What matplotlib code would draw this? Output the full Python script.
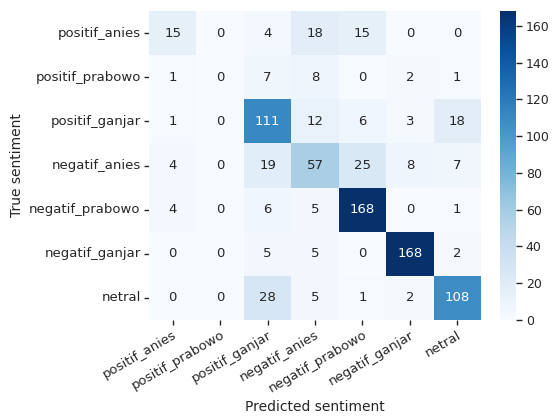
import numpy as np
import matplotlib
matplotlib.use("Agg")
import matplotlib.pyplot as plt
import seaborn as sns

labels = ["positif_anies", "positif_prabowo", "positif_ganjar",
          "negatif_anies", "negatif_prabowo", "negatif_ganjar", "netral"]

row_positif_anies = [15, 0, 4, 18, 15, 0, 0]
row_positif_prabowo = [1, 0, 7, 8, 0, 2, 1]
row_positif_ganjar = [1, 0, 111, 12, 6, 3, 18]
row_negatif_anies = [4, 0, 19, 57, 25, 8, 7]
row_negatif_prabowo = [4, 0, 6, 5, 168, 0, 1]
row_negatif_ganjar = [0, 0, 5, 5, 0, 168, 2]
row_netral = [0, 0, 28, 5, 1, 2, 108]

cm = np.array([row_positif_anies, row_positif_prabowo, row_positif_ganjar,
               row_negatif_anies, row_negatif_prabowo, row_negatif_ganjar,
               row_netral])

sns.set_theme(style="ticks")
plt.rcParams["font.family"] = ["DejaVu Sans"]

fig = plt.figure(figsize=(5.52, 4.16), dpi=100)
W, H = 552, 416
ax = fig.add_axes([149 / W, 1 - 320 / H, (481 - 149) / W, (320 - 11) / H])
cax = fig.add_axes([500 / W, 1 - 320 / H, (516 - 500) / W, (320 - 11) / H])

sns.heatmap(cm, annot=True, fmt="d", cmap="Blues", ax=ax, cbar_ax=cax,
            xticklabels=labels, yticklabels=labels,
            annot_kws={"fontsize": 9.5})

ax.set_xlabel("Predicted sentiment", fontsize=10, labelpad=3)
ax.set_ylabel("True sentiment", fontsize=10)
ax.tick_params(labelsize=9.5, length=3.5, width=1, pad=2.5)
plt.setp(ax.get_xticklabels(), rotation=30, ha="right", rotation_mode="anchor")
plt.setp(ax.get_yticklabels(), rotation=0)
cax.tick_params(labelsize=9, length=4.5, width=1, pad=2.5)
for s in cax.spines.values():
    s.set_visible(False)

fig.savefig("out.png", dpi=100)
